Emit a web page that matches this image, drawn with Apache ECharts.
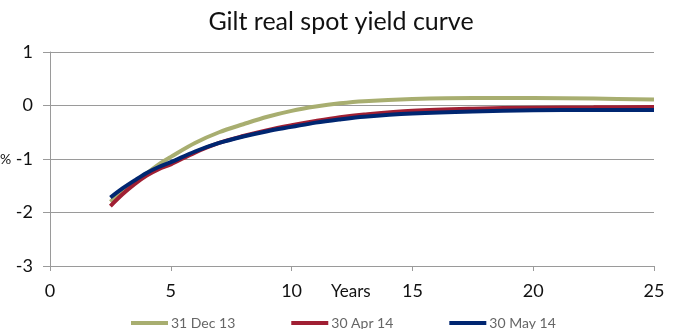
<!DOCTYPE html>
<html><head><meta charset="utf-8">
<script src="https://cdn.jsdelivr.net/npm/echarts@6/dist/echarts.min.js"></script>
<style>html,body{margin:0;padding:0;background:#fff}#c{width:682px;height:329px}</style>
</head><body><div id="c"></div>
<script>
const years = [2.5, 3, 3.5, 4, 4.5, 5, 6, 7, 8, 9, 10, 11, 12, 13, 15, 17.5, 20, 22.5, 25];
const dec13 = [-1.80, -1.60, -1.43, -1.27, -1.10, -0.96, -0.70, -0.50, -0.35, -0.21, -0.10, -0.02, 0.04, 0.08, 0.12, 0.14, 0.14, 0.13, 0.11];
const apr14 = [-1.88, -1.66, -1.47, -1.31, -1.19, -1.10, -0.88, -0.70, -0.57, -0.46, -0.37, -0.29, -0.22, -0.17, -0.10, -0.06, -0.04, -0.035, -0.03];
const may14 = [-1.72, -1.55, -1.40, -1.26, -1.15, -1.06, -0.86, -0.70, -0.58, -0.48, -0.40, -0.32, -0.26, -0.21, -0.15, -0.11, -0.09, -0.085, -0.085];
const seriesNames = ['31 Dec 13', '30 Apr 14', '30 May 14'];
const colors = ['#A8AE70', '#A01F33', '#002671'];

const FONT = 'Lato';
const chart = echarts.init(document.getElementById('c'));
const pair = (ys) => years.map((x, i) => [x, ys[i]]);
const allData = [dec13, apr14, may14];
chart.setOption({
  animation: false,
  title: { text: 'Gilt real spot yield curve', left: 'center', top: 4,
    textStyle: { fontFamily: FONT, fontSize: 25, fontWeight: 'normal', color: '#111' } },
  legend: { left: 126, top: 311, itemGap: 56, itemWidth: 37, itemHeight: 4,
    icon: 'rect',
    textStyle: { fontFamily: FONT, fontSize: 14, color: '#666', padding: [0,0,0,-2] },
    data: seriesNames },
  grid: { left: 50, right: 28, top: 52, bottom: 63, outerBoundsMode: 'none', containLabel: false },
  xAxis: [
    { type: 'value', min: 0, max: 25, interval: 5, position: 'bottom',
      axisLine: { show: false }, axisTick: { show: false }, splitLine: { show: false },
      axisLabel: { fontFamily: FONT, fontSize: 18, color: '#111', margin: 16 } },
    { type: 'value', min: 0, max: 25, interval: 5, position: 'bottom',
      axisLine: { show: true, onZero: true, lineStyle: { color: '#9a9a9a', width: 1 } },
      axisTick: { show: true, length: 5, lineStyle: { color: '#9a9a9a' } },
      axisLabel: { show: false }, splitLine: { show: false } }
  ],
  yAxis: { type: 'value', min: -3, max: 1, interval: 1,
    axisLine: { show: true, lineStyle: { color: '#9a9a9a' } },
    axisTick: { show: true, length: 7, lineStyle: { color: '#9a9a9a' } },
    axisLabel: { fontFamily: FONT, fontSize: 18, color: '#111', margin: 17 },
    splitLine: { show: true, lineStyle: { color: '#9a9a9a', width: 1 } } },
  graphic: [
    { type: 'text', left: 331, top: 283,
      style: { text: 'Years', fontFamily: FONT, fontSize: 17, fill: '#111' } },
    { type: 'text', left: 0, top: 152,
      style: { text: '%', fontFamily: FONT, fontSize: 14, fill: '#111' } }
  ],
  series: seriesNames.map((n, i) => ({
    name: n, type: 'line', xAxisIndex: 0, data: pair(allData[i]), smooth: 0.35,
    showSymbol: false, symbol: 'none', color: colors[i],
    lineStyle: { width: 4, color: colors[i] }, z: 3 + i
  }))
});
</script></body></html>
